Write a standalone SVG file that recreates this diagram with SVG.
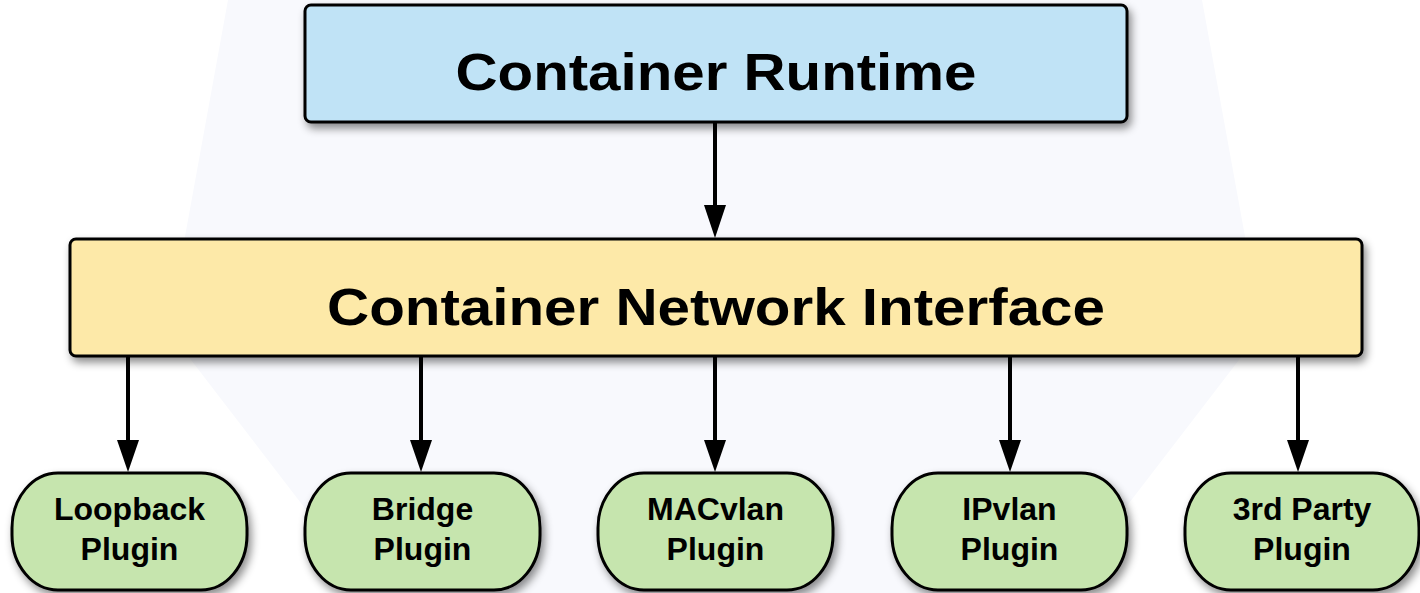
<svg xmlns="http://www.w3.org/2000/svg" width="1420" height="593" viewBox="0 0 1420 593">
  <defs>
    <filter id="shadow" x="-10%" y="-20%" width="120%" height="150%">
      <feDropShadow dx="3" dy="5" stdDeviation="4" flood-color="#000" flood-opacity="0.45"/>
    </filter>
    <style>
      .box { stroke: #000; stroke-width: 3; filter: url(#shadow); }
      .rt { fill: #c0e3f6; }
      .cni { fill: #fde9a8; }
      .plug { fill: #c6e5ae; }
      .big { font-family: "Liberation Sans", Arial, sans-serif; font-weight: bold; font-size: 52px; fill: #000; text-anchor: middle; }
      .small { font-family: "Liberation Sans", Arial, sans-serif; font-weight: bold; font-size: 32px; fill: #000; text-anchor: middle; }
      .conn { stroke: #000; stroke-width: 4; fill: none; }
      .head { fill: #000; }
    </style>
  </defs>
  <rect width="1420" height="593" fill="#fff"/>
  <g id="watermark">
    <polygon points="228,0 1202,0 1262,330 1060,593 370,593 168,330" fill="#f8f9fd"/>
  </g>
  <g id="connectors">
    <line class="conn" x1="715" y1="122" x2="715" y2="210"/>
    <path class="head" d="M704,205 L726,205 L715,238 Z"/>
    <line class="conn" x1="128" y1="357" x2="128" y2="445"/>
    <path class="head" d="M117,440 L139,440 L128,472 Z"/>
    <line class="conn" x1="421" y1="357" x2="421" y2="445"/>
    <path class="head" d="M410,440 L432,440 L421,472 Z"/>
    <line class="conn" x1="715" y1="357" x2="715" y2="445"/>
    <path class="head" d="M704,440 L726,440 L715,472 Z"/>
    <line class="conn" x1="1010" y1="357" x2="1010" y2="445"/>
    <path class="head" d="M999,440 L1021,440 L1010,472 Z"/>
    <line class="conn" x1="1298" y1="357" x2="1298" y2="445"/>
    <path class="head" d="M1287,440 L1309,440 L1298,472 Z"/>
  </g>
  <g id="runtime">
    <rect class="box rt" x="305" y="5" width="822" height="117" rx="6"/>
    <text class="big" x="716" y="90" textLength="521" lengthAdjust="spacingAndGlyphs">Container Runtime</text>
  </g>
  <g id="cni">
    <rect class="box cni" x="70" y="239" width="1292" height="117" rx="6"/>
    <text class="big" x="716" y="325" textLength="778" lengthAdjust="spacingAndGlyphs">Container Network Interface</text>
  </g>
  <g id="loopback">
    <rect class="box plug" x="12" y="473" width="235" height="117" rx="46" ry="55"/>
    <text class="small" x="129.5" y="520">Loopback</text>
    <text class="small" x="129.5" y="560">Plugin</text>
  </g>
  <g id="bridge">
    <rect class="box plug" x="305" y="473" width="235" height="117" rx="46" ry="55"/>
    <text class="small" x="422.5" y="520">Bridge</text>
    <text class="small" x="422.5" y="560">Plugin</text>
  </g>
  <g id="macvlan">
    <rect class="box plug" x="598" y="473" width="235" height="117" rx="46" ry="55"/>
    <text class="small" x="715.5" y="520">MACvlan</text>
    <text class="small" x="715.5" y="560">Plugin</text>
  </g>
  <g id="ipvlan">
    <rect class="box plug" x="892" y="473" width="235" height="117" rx="46" ry="55"/>
    <text class="small" x="1009.5" y="520">IPvlan</text>
    <text class="small" x="1009.5" y="560">Plugin</text>
  </g>
  <g id="thirdparty">
    <rect class="box plug" x="1185" y="473" width="234" height="117" rx="46" ry="55"/>
    <text class="small" x="1302" y="520">3rd Party</text>
    <text class="small" x="1302" y="560">Plugin</text>
  </g>
</svg>
